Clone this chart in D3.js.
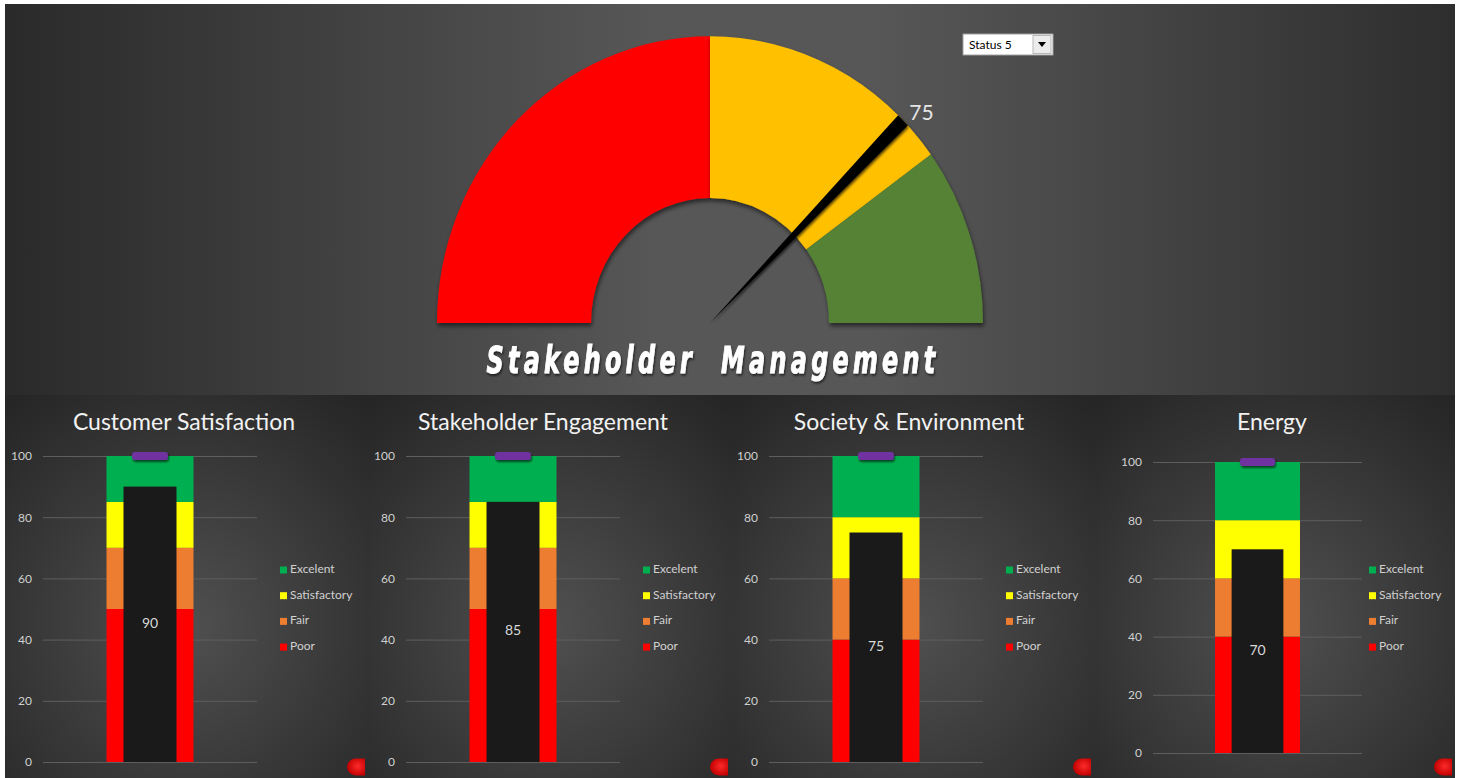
<!DOCTYPE html>
<html>
<head>
<meta charset="utf-8">
<script src="https://cdn.jsdelivr.net/npm/d3@7"></script>
<style>
  html, body { margin: 0; padding: 0; background: #ffffff; }
  svg { display: block; }
</style>
</head>
<body>
<svg id="chart" width="1462" height="778"></svg>
<script>
// ---------------- DATA ----------------
const gaugeTitle = "Stakeholder  Management";
const gaugeBreaks = [0, 50, 80, 100];
const gaugeColors = ["#ff0000", "#ffc000", "#548235"];
const gaugeValue = 75;
const dropdownLabel = "Status 5";

const categories = ["Customer Satisfaction", "Stakeholder Engagement", "Society & Environment", "Energy"];
const actualValues = [90, 85, 75, 70];
const poorBand = [50, 50, 40, 40];
const fairBand = [20, 20, 20, 20];
const satisfactoryBand = [15, 15, 20, 20];
const excellentBand = [15, 15, 20, 20];
const targetValues = [100, 100, 100, 100];
const yTicks = [0, 20, 40, 60, 80, 100];
const legendLabels = ["Excelent", "Satisfactory", "Fair", "Poor"];
const bandColors = { Poor: "#ff0000", Fair: "#ed7d31", Satisfactory: "#ffff00", Excelent: "#00b050" };

// ---------------- LAYOUT ----------------
const W = 1462, H = 778;
const panelLayout = [
  { x0: 5,    w: 363, gx0: 43,   gx1: 257,  yTop: 456, yBot: 762, titleX: 184 },
  { x0: 368,  w: 363, gx0: 406,  gx1: 620,  yTop: 456, yBot: 762, titleX: 543 },
  { x0: 731,  w: 363, gx0: 769,  gx1: 983,  yTop: 456, yBot: 762, titleX: 909 },
  { x0: 1094, w: 361, gx0: 1153, gx1: 1362, yTop: 462, yBot: 753, titleX: 1272 }
];

const svg = d3.select("#chart");
const defs = svg.append("defs");

// top gradient
const tg = defs.append("linearGradient").attr("id", "topGrad").attr("x1", "0").attr("x2", "1").attr("y1", "0").attr("y2", "0");
tg.append("stop").attr("offset", "0%").attr("stop-color", "#2a2a2a");
tg.append("stop").attr("offset", "45%").attr("stop-color", "#575757");
tg.append("stop").attr("offset", "60%").attr("stop-color", "#575757");
tg.append("stop").attr("offset", "100%").attr("stop-color", "#2e2e2e");

// panel gradient
const pg = defs.append("radialGradient").attr("id", "panelGrad").attr("cx", "50%").attr("cy", "60%").attr("r", "75%");
pg.append("stop").attr("offset", "0%").attr("stop-color", "#505050");
pg.append("stop").attr("offset", "100%").attr("stop-color", "#262626");

// red blob gradient
const rg = defs.append("radialGradient").attr("id", "blobGrad").attr("cx", "60%").attr("cy", "45%").attr("r", "60%");
rg.append("stop").attr("offset", "0%").attr("stop-color", "#ff2a2a");
rg.append("stop").attr("offset", "100%").attr("stop-color", "#c00000");

// shadow
const sh = defs.append("filter").attr("id", "shadow").attr("x", "-10%").attr("y", "-10%").attr("width", "120%").attr("height", "130%");
sh.append("feDropShadow").attr("dx", 1).attr("dy", 3).attr("stdDeviation", 2).attr("flood-color", "#000").attr("flood-opacity", 0.55);
const sh2 = defs.append("filter").attr("id", "shadowSmall").attr("x", "-30%").attr("y", "-50%").attr("width", "160%").attr("height", "250%");
sh2.append("feDropShadow").attr("dx", 1).attr("dy", 2).attr("stdDeviation", 1.2).attr("flood-color", "#000").attr("flood-opacity", 0.6);

// ---------- TOP SECTION ----------
svg.append("rect").attr("x", 5).attr("y", 4).attr("width", 1450).attr("height", 391).attr("fill", "url(#topGrad)");

const cx = 710, cy = 323, sy = 1.05;
const rOuter = 273, rInner = 119;
const angle = d3.scaleLinear().domain([0, 100]).range([-Math.PI / 2, Math.PI / 2]);

const gauge = svg.append("g").attr("transform", `translate(${cx},${cy}) scale(1,${sy})`);
const arc = d3.arc().innerRadius(rInner).outerRadius(rOuter);
const segs = d3.range(gaugeColors.length).map(i => ({ a: gaugeBreaks[i], b: gaugeBreaks[i + 1], c: gaugeColors[i] }));
gauge.selectAll("path.seg").data(segs).join("path")
  .attr("class", "seg")
  .attr("d", d => arc({ startAngle: angle(d.a), endAngle: angle(d.b) }))
  .attr("fill", d => d.c)
  .attr("filter", "url(#shadow)");

// needle
const needleArc = d3.arc().innerRadius(0).outerRadius(rOuter);
gauge.append("path")
  .attr("d", needleArc({ startAngle: angle(gaugeValue - 0.8), endAngle: angle(gaugeValue + 0.8) }))
  .attr("fill", "#050505")
  .attr("filter", "url(#shadowSmall)");

// value label
const la = angle(gaugeValue);
svg.append("text")
  .attr("x", cx + 292 * Math.sin(la) + 5)
  .attr("y", cy - 292 * Math.cos(la) * sy + 8)
  .attr("text-anchor", "middle")
  .attr("dominant-baseline", "middle")
  .attr("font-family", "Lato, 'Open Sans', sans-serif")
  .attr("font-size", 21)
  .attr("fill", "#e6e6e6")
  .text(gaugeValue);

// title
svg.append("text")
  .attr("x", 713).attr("y", 373)
  .attr("text-anchor", "middle")
  .attr("font-family", "'DejaVu Sans Condensed', 'DejaVu Sans', sans-serif")
  .attr("font-weight", "bold")
  .attr("font-style", "italic")
  .attr("font-size", 37)
  .attr("letter-spacing", 6)
  .attr("textLength", 453)
  .attr("lengthAdjust", "spacingAndGlyphs")
  .style("white-space", "pre")
  .attr("fill", "#ffffff")
  .attr("stroke", "#ffffff")
  .attr("stroke-width", 0.9)
  .attr("filter", "url(#shadowSmall)")
  .text(gaugeTitle);

// dropdown
const dd = svg.append("g").attr("transform", "translate(963,34)");
dd.append("rect").attr("width", 90).attr("height", 21).attr("fill", "#ffffff").attr("stroke", "#a0a0a0");
dd.append("text").attr("x", 6).attr("y", 15).attr("font-family", "Lato, 'Open Sans', sans-serif").attr("font-size", 12).attr("fill", "#000").text(dropdownLabel);
dd.append("rect").attr("x", 70).attr("y", 1.5).attr("width", 18).attr("height", 18).attr("fill", "#ececec").attr("stroke", "#b8b8b8");
dd.append("path").attr("d", "M75,8 L83,8 L79,13 Z").attr("fill", "#000");

// ---------- PANELS ----------
categories.forEach((cat, i) => {
  const L = panelLayout[i];
  const g = svg.append("g");
  g.append("rect").attr("x", L.x0).attr("y", 395).attr("width", L.w).attr("height", H - 395).attr("fill", "url(#panelGrad)");

  const y = d3.scaleLinear().domain([0, 100]).range([L.yBot, L.yTop]);
  const x = d3.scaleBand().domain([cat]).range([L.gx0, L.gx1]).padding(0.422);

  // axis + gridlines
  const axis = d3.axisLeft(y).tickValues(yTicks).tickSize(-(L.gx1 - L.gx0)).tickPadding(11);
  const ag = g.append("g").attr("transform", `translate(${L.gx0},0)`).call(axis);
  ag.select(".domain").remove();
  ag.selectAll(".tick line").attr("stroke", "#5e5e5e").attr("stroke-width", 1);
  ag.selectAll(".tick text").attr("fill", "#d0d0d0").attr("font-family", "Lato, 'Open Sans', sans-serif").attr("font-size", 12);

  // stacked bands
  const bands = [
    { key: "Poor", v: poorBand[i] },
    { key: "Fair", v: fairBand[i] },
    { key: "Satisfactory", v: satisfactoryBand[i] },
    { key: "Excelent", v: excellentBand[i] }
  ];
  let acc = 0;
  bands.forEach(b => { b.y0 = acc; acc += b.v; b.y1 = acc; });
  g.selectAll("rect.band").data(bands).join("rect")
    .attr("class", "band")
    .attr("x", x(cat)).attr("width", x.bandwidth())
    .attr("y", d => y(d.y1)).attr("height", d => y(d.y0) - y(d.y1))
    .attr("fill", d => bandColors[d.key]);

  // actual bar
  const innerW = x.bandwidth() * 53 / 87;
  const bx = x(cat) + (x.bandwidth() - innerW) / 2;
  g.append("rect")
    .attr("x", bx).attr("width", innerW)
    .attr("y", y(actualValues[i])).attr("height", y(0) - y(actualValues[i]))
    .attr("fill", "#1a1a1a");
  g.append("text")
    .attr("x", bx + innerW / 2)
    .attr("y", y(actualValues[i] / 2))
    .attr("text-anchor", "middle").attr("dominant-baseline", "middle")
    .attr("font-family", "Lato, 'Open Sans', sans-serif").attr("font-size", 14)
    .attr("fill", "#d9d9d9")
    .text(actualValues[i]);

  // target marker
  const tw = x.bandwidth() * 36 / 87;
  g.append("rect")
    .attr("x", x(cat) + (x.bandwidth() - tw) / 2).attr("width", tw)
    .attr("y", y(targetValues[i]) - 4).attr("height", 8).attr("rx", 3)
    .attr("fill", "#7030a0")
    .attr("filter", "url(#shadowSmall)");

  // title
  g.append("text")
    .attr("x", L.titleX).attr("y", 430)
    .attr("text-anchor", "middle")
    .attr("font-family", "Lato, 'Open Sans', sans-serif").attr("font-size", 23)
    .attr("fill", "#f2f2f2")
    .text(cat);

  // legend
  const lg = g.append("g").attr("transform", `translate(${L.x0 + 275},0)`);
  legendLabels.forEach((lab, k) => {
    const ly = 570 + k * 25.7;
    lg.append("rect").attr("x", 0).attr("y", ly - 3.5).attr("width", 7).attr("height", 7).attr("fill", bandColors[lab]);
    lg.append("text").attr("x", 10).attr("y", ly).attr("dominant-baseline", "middle")
      .attr("font-family", "Lato, 'Open Sans', sans-serif").attr("font-size", 12)
      .attr("fill", "#d0d0d0").text(lab);
  });

  // red blob (corner shape)
  const bxr = L.x0 + L.w - 3, byc = 767;
  g.append("path")
    .attr("d", `M${bxr},${byc - 8.5} L${bxr - 9},${byc - 8.5} A9,8.5 0 0 0 ${bxr - 9},${byc + 8.5} L${bxr},${byc + 8.5} Z`)
    .attr("fill", "url(#blobGrad)");
});

// white right border
svg.append("rect").attr("x", 1455).attr("y", 0).attr("width", 7).attr("height", H).attr("fill", "#ffffff");
</script>
</body>
</html>
